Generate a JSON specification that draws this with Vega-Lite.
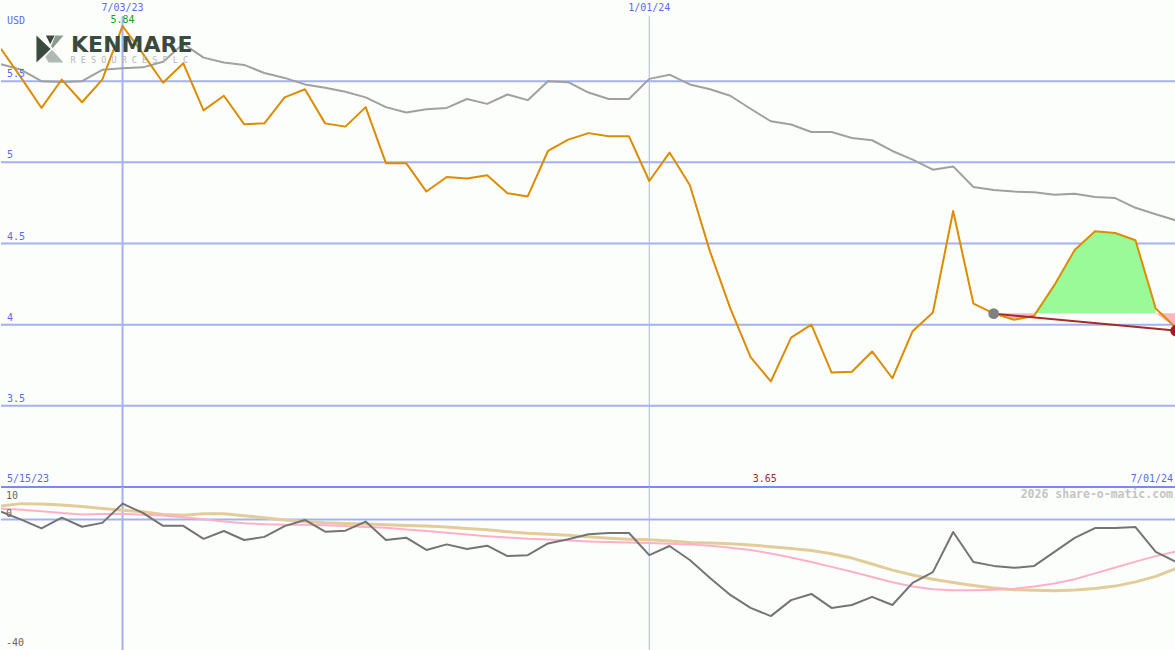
{
  "$schema": "https://vega.github.io/schema/vega-lite/v6.json",
  "background": "#fcfefc",
  "padding": 0,
  "spacing": 0,
  "bounds": "flush",
  "config": {"view": {"stroke": null}, "axis": {"disable": true}, "text": {"font": "DejaVu Sans Mono", "fontSize": 10}, "line": {"strokeJoin": "round"}},
  "datasets": {
    "w": [
      {"d":"2023-05-22","p":5.70,"m":5.605,"o":2.4,"s1":3.3,"s2":4.2},
      {"d":"2023-05-29","p":5.52,"m":5.57,"o":0,"s1":3.0,"s2":4.9},
      {"d":"2023-06-05","p":5.335,"m":5.50,"o":-2.7,"s1":2.55,"s2":4.8},
      {"d":"2023-06-12","p":5.51,"m":5.495,"o":0.6,"s1":2.0,"s2":4.5},
      {"d":"2023-06-19","p":5.37,"m":5.50,"o":-2.2,"s1":1.6,"s2":4.0},
      {"d":"2023-06-26","p":5.51,"m":5.57,"o":-1.0,"s1":1.7,"s2":3.4},
      {"d":"2023-07-03","p":5.84,"m":5.58,"o":4.9,"s1":1.8,"s2":2.9},
      {"d":"2023-07-10","p":5.67,"m":5.585,"o":2.05,"s1":1.5,"s2":2.4},
      {"d":"2023-07-17","p":5.49,"m":5.62,"o":-1.9,"s1":1.25,"s2":1.6},
      {"d":"2023-07-24","p":5.61,"m":5.73,"o":-1.9,"s1":0.7,"s2":1.3},
      {"d":"2023-07-31","p":5.32,"m":5.645,"o":-5.9,"s1":0.1,"s2":1.8},
      {"d":"2023-08-07","p":5.41,"m":5.615,"o":-3.5,"s1":-0.6,"s2":1.8},
      {"d":"2023-08-14","p":5.235,"m":5.60,"o":-6.25,"s1":-1.1,"s2":1.2},
      {"d":"2023-08-21","p":5.24,"m":5.55,"o":-5.3,"s1":-1.4,"s2":0.6},
      {"d":"2023-08-28","p":5.40,"m":5.52,"o":-2.0,"s1":-1.6,"s2":-0.1},
      {"d":"2023-09-04","p":5.45,"m":5.48,"o":-0.1,"s1":-1.6,"s2":-0.6},
      {"d":"2023-09-11","p":5.24,"m":5.46,"o":-3.7,"s1":-1.7,"s2":-1.0},
      {"d":"2023-09-18","p":5.22,"m":5.435,"o":-3.4,"s1":-2.0,"s2":-1.2},
      {"d":"2023-09-25","p":5.34,"m":5.40,"o":-0.6,"s1":-2.3,"s2":-1.35},
      {"d":"2023-10-02","p":4.995,"m":5.34,"o":-6.25,"s1":-2.5,"s2":-1.6},
      {"d":"2023-10-09","p":4.995,"m":5.307,"o":-5.55,"s1":-3.0,"s2":-1.8},
      {"d":"2023-10-16","p":4.82,"m":5.327,"o":-9.3,"s1":-3.5,"s2":-2.0},
      {"d":"2023-10-23","p":4.91,"m":5.335,"o":-7.6,"s1":-4.0,"s2":-2.3},
      {"d":"2023-10-30","p":4.90,"m":5.39,"o":-9.0,"s1":-4.6,"s2":-2.7},
      {"d":"2023-11-06","p":4.92,"m":5.36,"o":-8.0,"s1":-5.1,"s2":-3.1},
      {"d":"2023-11-13","p":4.81,"m":5.418,"o":-11.2,"s1":-5.5,"s2":-3.7},
      {"d":"2023-11-20","p":4.79,"m":5.383,"o":-10.9,"s1":-5.9,"s2":-4.2},
      {"d":"2023-11-27","p":5.07,"m":5.50,"o":-7.3,"s1":-6.1,"s2":-4.5},
      {"d":"2023-12-04","p":5.14,"m":5.494,"o":-6.0,"s1":-6.4,"s2":-4.8},
      {"d":"2023-12-11","p":5.18,"m":5.43,"o":-4.5,"s1":-6.7,"s2":-5.3},
      {"d":"2023-12-18","p":5.16,"m":5.39,"o":-4.1,"s1":-6.9,"s2":-5.7},
      {"d":"2023-12-25","p":5.16,"m":5.39,"o":-4.1,"s1":-7.0,"s2":-6.0},
      {"d":"2024-01-01","p":4.885,"m":5.514,"o":-10.9,"s1":-7.2,"s2":-6.2},
      {"d":"2024-01-08","p":5.06,"m":5.54,"o":-8.1,"s1":-7.4,"s2":-6.6},
      {"d":"2024-01-15","p":4.86,"m":5.48,"o":-12.4,"s1":-7.6,"s2":-7.0},
      {"d":"2024-01-22","p":4.45,"m":5.45,"o":-17.9,"s1":-8.0,"s2":-7.2},
      {"d":"2024-01-29","p":4.10,"m":5.41,"o":-23.1,"s1":-8.6,"s2":-7.4},
      {"d":"2024-02-05","p":3.80,"m":5.33,"o":-27.1,"s1":-9.3,"s2":-7.8},
      {"d":"2024-02-12","p":3.65,"m":5.253,"o":-29.6,"s1":-10.4,"s2":-8.3},
      {"d":"2024-02-19","p":3.92,"m":5.233,"o":-24.7,"s1":-11.6,"s2":-8.9},
      {"d":"2024-02-26","p":4.00,"m":5.187,"o":-22.8,"s1":-13.0,"s2":-9.5},
      {"d":"2024-03-04","p":3.705,"m":5.187,"o":-27.1,"s1":-14.5,"s2":-10.5},
      {"d":"2024-03-11","p":3.71,"m":5.15,"o":-26.2,"s1":-16.0,"s2":-11.8},
      {"d":"2024-03-18","p":3.835,"m":5.136,"o":-23.7,"s1":-17.6,"s2":-13.6},
      {"d":"2024-03-25","p":3.67,"m":5.07,"o":-26.2,"s1":-19.2,"s2":-15.5},
      {"d":"2024-04-01","p":3.96,"m":5.017,"o":-19.4,"s1":-20.5,"s2":-17.0},
      {"d":"2024-04-08","p":4.075,"m":4.955,"o":-16.1,"s1":-21.4,"s2":-18.3},
      {"d":"2024-04-15","p":4.70,"m":4.975,"o":-3.8,"s1":-21.7,"s2":-19.3},
      {"d":"2024-04-22","p":4.13,"m":4.848,"o":-13.0,"s1":-21.7,"s2":-20.2},
      {"d":"2024-04-29","p":4.07,"m":4.83,"o":-14.2,"s1":-21.5,"s2":-21.0},
      {"d":"2024-05-06","p":4.03,"m":4.82,"o":-14.8,"s1":-21.2,"s2":-21.5},
      {"d":"2024-05-13","p":4.055,"m":4.815,"o":-14.2,"s1":-20.5,"s2":-21.7},
      {"d":"2024-05-20","p":4.245,"m":4.80,"o":-9.9,"s1":-19.6,"s2":-21.8},
      {"d":"2024-05-27","p":4.46,"m":4.807,"o":-5.6,"s1":-18.3,"s2":-21.6},
      {"d":"2024-06-03","p":4.575,"m":4.786,"o":-2.6,"s1":-16.5,"s2":-21.1},
      {"d":"2024-06-10","p":4.565,"m":4.78,"o":-2.6,"s1":-14.7,"s2":-20.4},
      {"d":"2024-06-17","p":4.52,"m":4.72,"o":-2.3,"s1":-12.9,"s2":-19.1},
      {"d":"2024-06-24","p":4.10,"m":4.68,"o":-9.9,"s1":-11.2,"s2":-17.4},
      {"d":"2024-07-01","p":3.98,"m":4.642,"o":-13.0,"s1":-9.8,"s2":-15.0}
    ],
    "fill": [
      {"d":"2024-04-29","hi":4.07,"lo":4.07,"z":"down","s":"a"},
      {"d":"2024-05-06","hi":4.07,"lo":4.03,"z":"down","s":"a"},
      {"d":"2024-05-13","hi":4.07,"lo":4.055,"z":"down","s":"a"},
      {"d":"2024-05-13","hi":4.07,"lo":4.07,"z":"up","s":"b"},
      {"d":"2024-05-20","hi":4.245,"lo":4.07,"z":"up","s":"b"},
      {"d":"2024-05-27","hi":4.46,"lo":4.07,"z":"up","s":"b"},
      {"d":"2024-06-03","hi":4.575,"lo":4.07,"z":"up","s":"b"},
      {"d":"2024-06-10","hi":4.565,"lo":4.07,"z":"up","s":"b"},
      {"d":"2024-06-17","hi":4.52,"lo":4.07,"z":"up","s":"b"},
      {"d":"2024-06-24","hi":4.10,"lo":4.07,"z":"up","s":"b"},
      {"d":"2024-06-24","hi":4.07,"lo":4.07,"z":"down","s":"c"},
      {"d":"2024-07-01","hi":4.07,"lo":3.98,"z":"down","s":"c"}
    ],
    "trend": [
      {"d":"2024-04-29","v":4.068},
      {"d":"2024-07-01","v":3.963}
    ]
  },
  "vconcat": [
    {
      "width": 1175,
      "height": 487,
      "layer": [
        {
          "data": {"values": [{"v":3.5},{"v":4},{"v":4.5},{"v":5},{"v":5.5}]},
          "mark": {"type": "rule", "color": "#a3b1f0", "strokeWidth": 2},
          "encoding": {"y": {"field": "v", "type": "quantitative", "scale": {"domain": [3, 6], "nice": false, "zero": false}}}
        },
        {
          "data": {"values": [{}]},
          "mark": {"type": "rule", "color": "#a3b1f0", "strokeWidth": 2},
          "encoding": {
            "x": {"datum": {"year": 2023, "month": 7, "date": 3, "utc": true}, "type": "temporal", "scale": {"domain": [{"year": 2023, "month": 5, "date": 22, "utc": true}, {"year": 2024, "month": 7, "date": 1, "utc": true}]}},
            "y": {"datum": 3, "type": "quantitative"},
            "y2": {"datum": 5.9}
          }
        },
        {
          "data": {"values": [{}]},
          "mark": {"type": "rule", "color": "#a9b5ee", "strokeWidth": 1},
          "encoding": {
            "x": {"datum": {"year": 2024, "month": 1, "date": 1, "utc": true}, "type": "temporal"},
            "y": {"datum": 3, "type": "quantitative"},
            "y2": {"datum": 5.9}
          }
        },
        {
          "data": {"name": "fill"},
          "mark": {"type": "area", "opacity": 1, "clip": true},
          "encoding": {
            "x": {"field": "d", "type": "temporal"},
            "y": {"field": "hi", "type": "quantitative", "stack": null},
            "y2": {"field": "lo"},
            "color": {"field": "z", "type": "nominal", "scale": {"domain": ["up", "down"], "range": ["#98fb98", "#ffb6c1"]}, "legend": null},
            "detail": {"field": "s"}
          }
        },
        {
          "data": {"name": "w"},
          "mark": {"type": "line", "color": "#a0a0a0", "strokeWidth": 2, "clip": true},
          "encoding": {
            "x": {"field": "d", "type": "temporal"},
            "y": {"field": "m", "type": "quantitative"}
          }
        },
        {
          "data": {"name": "w"},
          "mark": {"type": "line", "color": "#dd8c00", "strokeWidth": 2, "clip": true},
          "encoding": {
            "x": {"field": "d", "type": "temporal"},
            "y": {"field": "p", "type": "quantitative"}
          }
        },
        {
          "data": {"name": "trend"},
          "mark": {"type": "line", "color": "#a52a2a", "strokeWidth": 2, "clip": true},
          "encoding": {
            "x": {"field": "d", "type": "temporal"},
            "y": {"field": "v", "type": "quantitative"}
          }
        },
        {
          "data": {"values": [{}]},
          "mark": {"type": "point", "filled": true, "opacity": 1, "color": "#808080", "size": 115, "clip": true},
          "encoding": {
            "x": {"datum": {"year": 2024, "month": 4, "date": 29, "utc": true}, "type": "temporal"},
            "y": {"datum": 4.068, "type": "quantitative"}
          }
        },
        {
          "data": {"values": [{}]},
          "mark": {"type": "point", "filled": true, "opacity": 1, "color": "#a31d1d", "size": 130, "clip": true},
          "encoding": {
            "x": {"datum": {"year": 2024, "month": 7, "date": 1, "utc": true}, "type": "temporal"},
            "y": {"datum": 3.963, "type": "quantitative"}
          }
        },
        {
          "data": {"values": [{"v":5.5,"t":"5.5"},{"v":5,"t":"5"},{"v":4.5,"t":"4.5"},{"v":4,"t":"4"},{"v":3.5,"t":"3.5"}]},
          "mark": {"type": "text", "align": "left", "dx": 6, "dy": -7, "color": "#5a6af0"},
          "encoding": {
            "x": {"datum": {"year": 2023, "month": 5, "date": 22, "utc": true}, "type": "temporal"},
            "y": {"field": "v", "type": "quantitative"},
            "text": {"field": "t"}
          }
        },
        {
          "data": {"values": [{"t":"USD","v":5.87}]},
          "mark": {"type": "text", "align": "left", "dx": 6, "color": "#5a6af0"},
          "encoding": {
            "x": {"datum": {"year": 2023, "month": 5, "date": 22, "utc": true}, "type": "temporal"},
            "y": {"field": "v", "type": "quantitative"},
            "text": {"field": "t"}
          }
        },
        {
          "data": {"values": [{"t":"7/03/23","d":"2023-07-03"},{"t":"1/01/24","d":"2024-01-01"}]},
          "mark": {"type": "text", "align": "center", "color": "#5a6af0"},
          "encoding": {
            "x": {"field": "d", "type": "temporal"},
            "y": {"datum": 5.95, "type": "quantitative"},
            "text": {"field": "t"}
          }
        },
        {
          "data": {"values": [{"t":"5.84","v":5.84}]},
          "mark": {"type": "text", "align": "center", "dy": -6, "color": "#1e9a1e"},
          "encoding": {
            "x": {"datum": {"year": 2023, "month": 7, "date": 3, "utc": true}, "type": "temporal"},
            "y": {"field": "v", "type": "quantitative"},
            "text": {"field": "t"}
          }
        },
        {
          "data": {"values": [{"t":"5/15/23"}]},
          "mark": {"type": "text", "align": "left", "dx": 6, "color": "#5a6af0"},
          "encoding": {
            "x": {"datum": {"year": 2023, "month": 5, "date": 22, "utc": true}, "type": "temporal"},
            "y": {"datum": 3.049, "type": "quantitative"},
            "text": {"field": "t"}
          }
        },
        {
          "data": {"values": [{"t":"3.65"}]},
          "mark": {"type": "text", "align": "center", "dx": -6, "color": "#a52a2a"},
          "encoding": {
            "x": {"datum": {"year": 2024, "month": 2, "date": 12, "utc": true}, "type": "temporal"},
            "y": {"datum": 3.049, "type": "quantitative"},
            "text": {"field": "t"}
          }
        },
        {
          "data": {"values": [{"t":"7/01/24"}]},
          "mark": {"type": "text", "align": "right", "dx": -3, "color": "#5a6af0"},
          "encoding": {
            "x": {"datum": {"year": 2024, "month": 7, "date": 1, "utc": true}, "type": "temporal"},
            "y": {"datum": 3.049, "type": "quantitative"},
            "text": {"field": "t"}
          }
        },
        {
          "data": {"values": [{"t":"KENMARE"}]},
          "mark": {"type": "text", "align": "left", "baseline": "alphabetic", "font": "DejaVu Sans", "fontWeight": "bold", "fontSize": 22, "color": "#3a4a3e"},
          "encoding": {
            "x": {"datum": {"year": 2023, "month": 6, "date": 15, "hours": 5, "utc": true}, "type": "temporal"},
            "y": {"datum": 5.68, "type": "quantitative"},
            "text": {"field": "t"}
          }
        },
        {
          "data": {"values": [{"t":"R E S O U R C E S  P L C"}]},
          "mark": {"type": "text", "align": "left", "baseline": "alphabetic", "font": "DejaVu Sans Mono", "fontSize": 8.5, "color": "#b4b8b4"},
          "encoding": {
            "x": {"datum": {"year": 2023, "month": 6, "date": 15, "utc": true}, "type": "temporal"},
            "y": {"datum": 5.612, "type": "quantitative"},
            "text": {"field": "t"}
          }
        },
        {
          "data": {"values": [{}]},
          "mark": {"type": "point", "filled": true, "opacity": 1, "color": "#3a4a3e", "size": 729, "shape": "M-1,-1 L0.05,0 L-1,1 Z M-0.3,-1 L0.35,-1 L0.02,-0.35 Z"},
          "encoding": {
            "x": {"datum": {"year": 2023, "month": 6, "date": 7, "hours": 22, "utc": true}, "type": "temporal"},
            "y": {"datum": 5.698, "type": "quantitative"}
          }
        },
        {
          "data": {"values": [{}]},
          "mark": {"type": "point", "filled": true, "opacity": 1, "color": "#8c9a8f", "size": 729, "shape": "M0.4,-1 L1,-1 L0.2,-0.05 L0.08,-0.2 Z"},
          "encoding": {
            "x": {"datum": {"year": 2023, "month": 6, "date": 7, "hours": 22, "utc": true}, "type": "temporal"},
            "y": {"datum": 5.698, "type": "quantitative"}
          }
        },
        {
          "data": {"values": [{}]},
          "mark": {"type": "point", "filled": true, "opacity": 1, "color": "#b0b8b2", "size": 729, "shape": "M0.15,0.05 L1,1 L-0.1,1 L-0.35,0.6 Z"},
          "encoding": {
            "x": {"datum": {"year": 2023, "month": 6, "date": 7, "hours": 22, "utc": true}, "type": "temporal"},
            "y": {"datum": 5.698, "type": "quantitative"}
          }
        }
      ]
    },
    {
      "width": 1175,
      "height": 163,
      "layer": [
        {
          "data": {"values": [{"v":0}]},
          "mark": {"type": "rule", "color": "#a3b1f0", "strokeWidth": 2},
          "encoding": {"y": {"field": "v", "type": "quantitative", "scale": {"domain": [-40, 10], "nice": false, "zero": false}}}
        },
        {
          "data": {"values": [{"v":10}]},
          "mark": {"type": "rule", "color": "#7b8af0", "strokeWidth": 2},
          "encoding": {"y": {"field": "v", "type": "quantitative"}}
        },
        {
          "data": {"values": [{}]},
          "mark": {"type": "rule", "color": "#a3b1f0", "strokeWidth": 2},
          "encoding": {
            "x": {"datum": {"year": 2023, "month": 7, "date": 3, "utc": true}, "type": "temporal", "scale": {"domain": [{"year": 2023, "month": 5, "date": 22, "utc": true}, {"year": 2024, "month": 7, "date": 1, "utc": true}]}}
          }
        },
        {
          "data": {"values": [{}]},
          "mark": {"type": "rule", "color": "#a9b5ee", "strokeWidth": 1},
          "encoding": {
            "x": {"datum": {"year": 2024, "month": 1, "date": 1, "utc": true}, "type": "temporal"}
          }
        },
        {
          "data": {"name": "w"},
          "mark": {"type": "line", "color": "#e2cc9a", "strokeWidth": 3, "clip": true},
          "encoding": {
            "x": {"field": "d", "type": "temporal"},
            "y": {"field": "s2", "type": "quantitative"}
          }
        },
        {
          "data": {"name": "w"},
          "mark": {"type": "line", "color": "#ffb0c8", "strokeWidth": 2, "clip": true},
          "encoding": {
            "x": {"field": "d", "type": "temporal"},
            "y": {"field": "s1", "type": "quantitative"}
          }
        },
        {
          "data": {"name": "w"},
          "mark": {"type": "line", "color": "#747474", "strokeWidth": 2, "clip": true},
          "encoding": {
            "x": {"field": "d", "type": "temporal"},
            "y": {"field": "o", "type": "quantitative"}
          }
        },
        {
          "data": {"values": [{"t":"10","v":7.2},{"t":"0","v":1.8},{"t":"-40","v":-37.7}]},
          "mark": {"type": "text", "align": "left", "dx": 5, "color": "#666666"},
          "encoding": {
            "x": {"datum": {"year": 2023, "month": 5, "date": 22, "utc": true}, "type": "temporal"},
            "y": {"field": "v", "type": "quantitative"},
            "text": {"field": "t"}
          }
        },
        {
          "data": {"values": [{"t":"2026 share-o-matic.com"}]},
          "mark": {"type": "text", "align": "right", "dx": -3, "fontSize": 11.5, "fontWeight": "bold", "color": "#c4c4c4"},
          "encoding": {
            "x": {"datum": {"year": 2024, "month": 7, "date": 1, "utc": true}, "type": "temporal"},
            "y": {"datum": 7.4, "type": "quantitative"},
            "text": {"field": "t"}
          }
        }
      ]
    }
  ]
}
